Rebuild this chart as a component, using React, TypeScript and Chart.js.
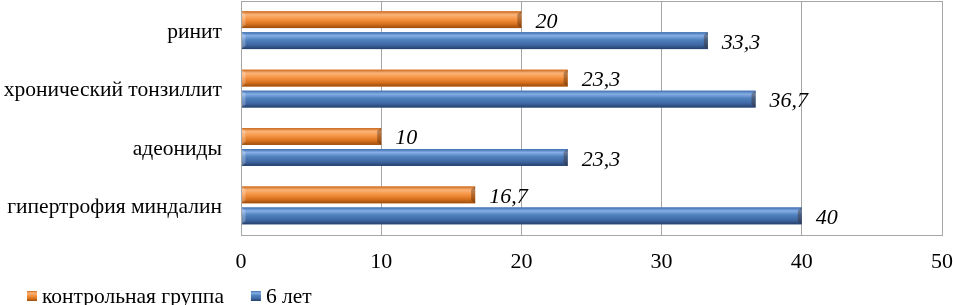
import React, { useEffect, useRef } from "react";
import { Chart, registerables } from "chart.js";

Chart.register(...registerables);

const categories = ["ринит", "хронический тонзиллит", "адеониды", "гипертрофия миндалин"];
const controlValues = [20, 23.3, 10, 16.7];
const sixYearsValues = [33.3, 36.7, 23.3, 40];
const seriesNames = ["контрольная группа", "6 лет"];
const xTicks = [0, 10, 20, 30, 40, 50];

const FONT = "'Liberation Serif', 'Times New Roman', serif";
Chart.defaults.font.family = FONT;

const palettes = [
  ["#C8681C", "#FBB47A", "#F79646", "#D9721E", "#9A4C0C"],
  ["#3F6FB0", "#86AEE6", "#4F81BD", "#3E67A3", "#263F6B"],
];

function barGradient(ctx: CanvasRenderingContext2D, pal: string[], top: number, h: number) {
  const g = ctx.createLinearGradient(0, top, 0, top + h);
  g.addColorStop(0, pal[0]);
  g.addColorStop(0.2, pal[1]);
  g.addColorStop(0.45, pal[2]);
  g.addColorStop(0.75, pal[3]);
  g.addColorStop(1, pal[4]);
  return g;
}

const barStylePlugin = {
  id: "barStyle",
  afterDatasetsDraw(chart: any) {
    const ctx = chart.ctx as CanvasRenderingContext2D;
    chart.data.datasets.forEach((ds: any, di: number) => {
      const meta = chart.getDatasetMeta(di);
      const pal = palettes[di];
      meta.data.forEach((el: any, i: number) => {
        const x0 = el.base;
        const x1 = el.x;
        const top = el.y - el.height / 2;
        const h = el.height;
        ctx.save();
        ctx.fillStyle = barGradient(ctx, pal, top, h);
        ctx.fillRect(x0, top, x1 - x0, h);
        ctx.fillStyle = "rgba(60,30,10,0.35)";
        ctx.beginPath();
        ctx.moveTo(x1, top);
        ctx.lineTo(x1 - 4, top + 3);
        ctx.lineTo(x1 - 4, top + h - 3);
        ctx.lineTo(x1, top + h);
        ctx.closePath();
        ctx.fill();
        ctx.fillStyle = "rgba(255,255,255,0.25)";
        ctx.beginPath();
        ctx.moveTo(x0, top);
        ctx.lineTo(x0 + 4, top + 3);
        ctx.lineTo(x0 + 4, top + h - 3);
        ctx.lineTo(x0, top + h);
        ctx.closePath();
        ctx.fill();
        const v = ds.data[i] as number;
        ctx.fillStyle = "#000";
        ctx.font = `italic 22px ${FONT}`;
        ctx.textAlign = "left";
        ctx.textBaseline = "alphabetic";
        ctx.fillText(String(v).replace(".", ","), x1 + 14, el.y + 8);
        ctx.restore();
      });
    });
    const a = chart.chartArea;
    ctx.save();
    ctx.strokeStyle = "#A6A6A6";
    ctx.lineWidth = 1;
    ctx.strokeRect(Math.round(a.left) + 0.5, Math.round(a.top) + 0.5, Math.round(a.right - a.left), Math.round(a.bottom - a.top));
    ctx.restore();

    // legend
    ctx.save();
    ctx.font = `21.5px ${FONT}`;
    ctx.textBaseline = "alphabetic";
    ctx.textAlign = "left";
    let x = 27;
    const boxTop = 291;
    const box = 10;
    chart.data.datasets.forEach((ds: any, di: number) => {
      ctx.fillStyle = barGradient(ctx, palettes[di], boxTop, box);
      ctx.fillRect(x, boxTop, box, box);
      const tx = x + box + 5;
      ctx.fillStyle = "#000";
      ctx.fillText(ds.label, tx, 303);
      x = tx + ctx.measureText(ds.label).width + 27;
    });
    ctx.restore();
  },
};

export default function App() {
  const ref = useRef<HTMLCanvasElement>(null);
  useEffect(() => {
    document.body.style.margin = "0";
    const chart = new Chart(ref.current!, {
      type: "bar",
      data: {
        labels: categories,
        datasets: [
          { label: seriesNames[0], data: controlValues, backgroundColor: "#F79646" },
          { label: seriesNames[1], data: sixYearsValues, backgroundColor: "#4F81BD" },
        ],
      },
      plugins: [barStylePlugin],
      options: {
        indexAxis: "y",
        responsive: false,
        animation: false,
        datasets: { bar: { categoryPercentage: 0.72, barPercentage: 0.8 } } as any,
        layout: { padding: { left: 0, right: 11, top: 1, bottom: 16 } },
        scales: {
          x: {
            min: xTicks[0],
            max: xTicks[xTicks.length - 1],
            afterBuildTicks: (axis: any) => {
              axis.ticks = xTicks.map((v) => ({ value: v }));
            },
            afterFit: (axis: any) => {
              axis.paddingLeft = 0;
              axis.paddingRight = 0;
            },
            grid: { color: "#A6A6A6", drawTicks: false },
            border: { display: false },
            ticks: { color: "#000", font: { family: FONT, size: 22 }, padding: 14 },
          },
          y: {
            grid: { display: false, drawTicks: false },
            border: { display: false },
            ticks: { color: "#000", font: { family: FONT, size: 21.5 }, padding: 19, labelOffset: 2 },
            afterFit: (axis: any) => {
              axis.width = 241;
              axis.paddingTop = 0;
              axis.paddingBottom = 0;
            },
          },
        },
        plugins: {
          legend: { display: false },
          tooltip: { enabled: false },
        },
      },
    });
    return () => chart.destroy();
  }, []);
  return (
    <div style={{ width: 953, height: 305 }}>
      <canvas ref={ref} width={953} height={305} />
    </div>
  );
}
